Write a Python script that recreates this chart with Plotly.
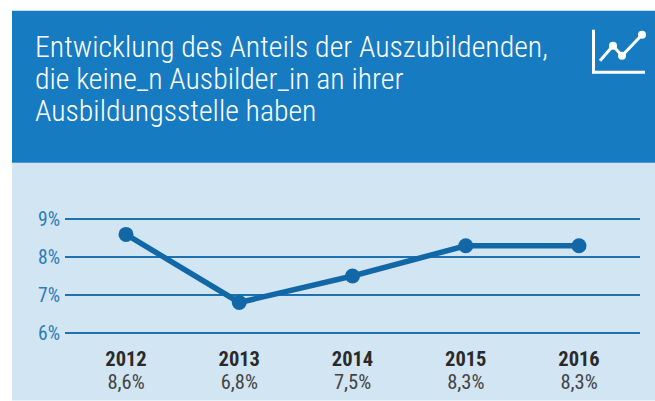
import plotly.graph_objects as go

years = ["2012", "2013", "2014", "2015", "2016"]
shares = [8.6, 6.8, 7.5, 8.3, 8.3]
share_labels = ["8,6%", "6,8%", "7,5%", "8,3%", "8,3%"]
y_ticks = [6, 7, 8, 9]
y_tick_labels = ["6%", "7%", "8%", "9%"]
title_lines = ["Entwicklung des Anteils der Auszubildenden,",
               "die keine_n Ausbilder_in an ihrer",
               "Ausbildungsstelle haben"]

W, H = 655, 401
UNIT = 37.83
PAD = 0.06
L, R = 65, 640
T, B = 219.6 - PAD * UNIT, 333.1 + PAD * UNIT
FONT = "Roboto Condensed, Roboto, sans-serif"
BLUE = "#177bc2"
LIGHT = "#d2e5f3"
LINE = "#1268a6"

def px(x):
    return (x - L) / (R - L)

def py(y):
    return (B - y) / (B - T)

fig = go.Figure()
fig.add_trace(go.Scatter(
    x=years, y=shares, mode="lines+markers",
    line=dict(color=LINE, width=5.5),
    marker=dict(color=LINE, size=15),
    cliponaxis=False, showlegend=False, hoverinfo="skip"))

ticktext = [f'<b><span style="color:#2b2a29;font-size:20.5px">{y}</span></b><br>'
            f'<span style="color:#444444;font-size:20.5px">{v}</span>'
            for y, v in zip(years, share_labels)]
fig.update_xaxes(type="category", range=[-0.5386, 4.5386], tickmode="array",
                 tickvals=years, ticktext=ticktext, showgrid=False, zeroline=False,
                 showline=False, ticks="", ticklabelstandoff=12, automargin=False,
                 tickfont=dict(family=FONT, size=17.7, color="#444444"))
fig.update_yaxes(range=[6 - PAD, 9 + PAD], tickmode="array", tickvals=y_ticks,
                 ticktext=y_tick_labels, automargin=False,
                 showgrid=True, gridcolor="#1f72ae", gridwidth=1.5, zeroline=False,
                 showline=False, ticks="", ticklabelstandoff=4,
                 tickfont=dict(family=FONT, size=19.5, color="#2a7db8"))

def rect(x0, y0, x1, y1, color):
    return dict(type="rect", xref="paper", yref="paper", x0=px(x0), x1=px(x1),
                y0=py(y0), y1=py(y1), fillcolor=color, line_width=0, layer="below")

def seg(pts, width=3):
    path = "M" + " L".join(f"{px(a):.5f},{py(b):.5f}" for a, b in pts)
    return dict(type="path", xref="paper", yref="paper", path=path,
                line=dict(color="white", width=width), layer="above")

def dot(x, y, r=4):
    return dict(type="circle", xref="paper", yref="paper",
                x0=px(x - r), x1=px(x + r), y0=py(y - r), y1=py(y + r),
                fillcolor="white", line_width=0, layer="above")

shapes = [rect(12, 163, W, H, LIGHT), rect(12, 11, W, 163, BLUE),
          seg([(593.5, 30), (593.5, 72.5), (645, 72.5)]),
          seg([(600, 61), (613, 46), (622, 56), (642, 35)]),
          dot(613, 46), dot(622, 56), dot(642, 35)]

annotations = [dict(text=t, xref="paper", yref="paper", x=px(33), y=py(yc),
                    xanchor="left", yanchor="middle", showarrow=False, align="left",
                    font=dict(family=FONT, size=29.8, color="white", weight=300))
               for t, yc in zip(title_lines, [47, 79, 111])]

fig.update_layout(width=W, height=H, autosize=False,
                  margin=dict(l=L, r=W - R, t=T, b=H - B, pad=0, autoexpand=False),
                  paper_bgcolor="white", plot_bgcolor="rgba(0,0,0,0)",
                  shapes=shapes, annotations=annotations, showlegend=False)

fig.write_html("out.html", config=dict(displayModeBar=False),
               post_script="document.body.style.margin='0';")
